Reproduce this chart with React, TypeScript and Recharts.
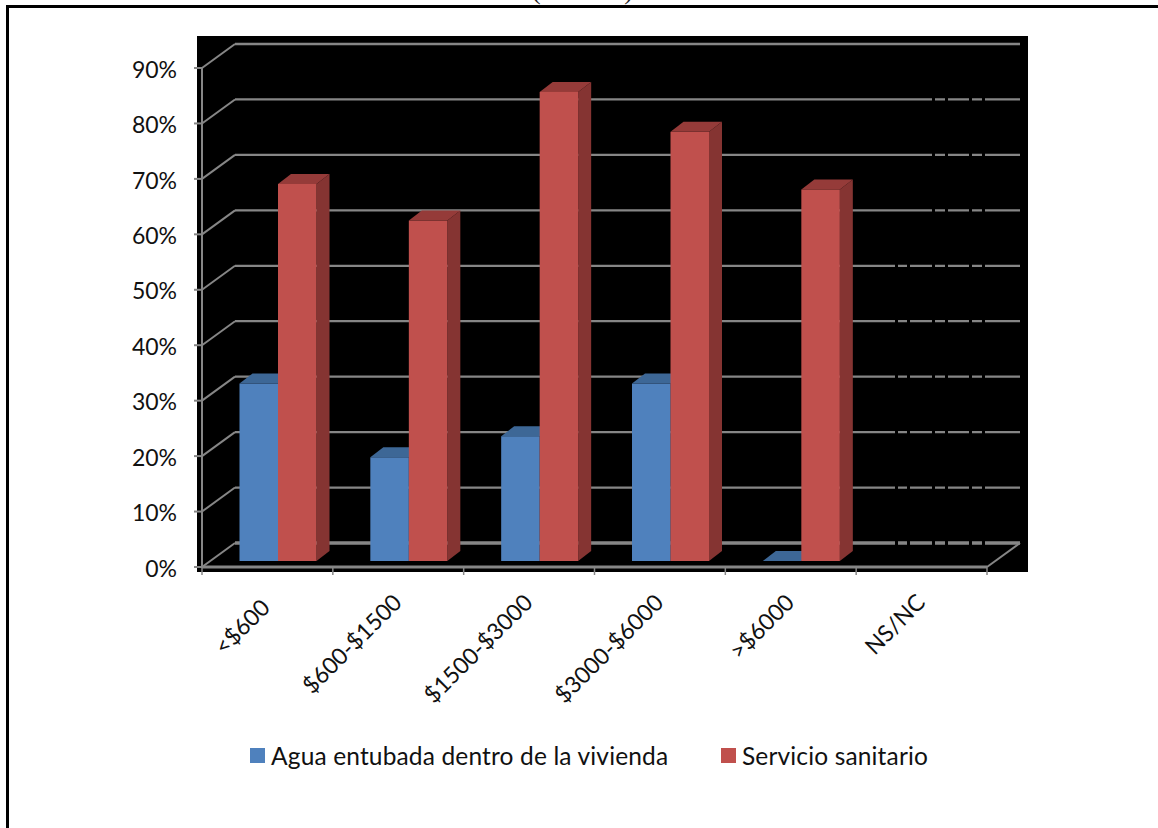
import React from 'react'
import { BarChart, Bar, XAxis, YAxis, CartesianGrid, Legend } from 'recharts'

const categories = ['<$600', '$600-$1500', '$1500-$3000', '$3000-$6000', '>$6000', 'NS/NC']
const aguaValues = [32, 18.7, 22.5, 32, 0, null]
const sanitarioValues = [68, 61.4, 84.6, 77.4, 67, null]
const yTicks = [0, 10, 20, 30, 40, 50, 60, 70, 80, 90]

const data = categories.map((name, i) => ({
    name,
    agua: aguaValues[i],
    sanitario: sanitarioValues[i],
}))

const FONT = 'Lato, Carlito, sans-serif'
const GRID = '#868686'
const PLOT_W = 785
const STEP = PLOT_W / categories.length

// the back wall sits up and to the right of the front axes
const WALL_DX = 33
const WALL_DY = -24
// bars stand in the middle of the floor, depth is the visible side
const BAR_DX = 10.5
const BAR_DY = -6
const DEPTH_X = 13
const DEPTH_Y = -10

function lineDash(y: number, x2: number) {
    // the gridlines break up near the right end in the source picture
    const end = x2 + WALL_DX
    const gaps = y < 100 ? [] : y < 280 ? [932, 945, 969, 982] : [895, 907, 932, 945, 969, 982]
    if (!gaps.length) return undefined
    let pos = 202 + WALL_DX
    const dash: number[] = []
    gaps.forEach((g) => {
        dash.push(g - pos, 3)
        pos = g + 3
    })
    dash.push(end - pos, 0)
    return dash.join(' ')
}

function GridLine({ x1, x2, y1 }: any) {
    const isFloor = y1 > 560
    const backY = y1 + WALL_DY
    const width = isFloor ? 3.5 : y1 < 100 ? 2.6 : 2.2
    return (
        <g fill="none" stroke={GRID}>
            <line x1={x1} y1={y1} x2={x1 + WALL_DX} y2={backY} strokeWidth={2} />
            <line
                x1={x1 + WALL_DX}
                y1={backY}
                x2={x2 + WALL_DX}
                y2={backY}
                strokeWidth={width}
                strokeDasharray={lineDash(y1, x2)}
            />
            {isFloor && <line x1={x2} y1={y1} x2={x2 + WALL_DX} y2={backY} strokeWidth={2} />}
        </g>
    )
}

function Box3D({ x, y, width, height, value, front, top, side }: any) {
    const v = Array.isArray(value) ? value[1] : value
    if (v == null || Number.isNaN(y)) return null
    const left = x + BAR_DX
    const right = left + width
    const yTop = y + BAR_DY
    const yBase = yTop + height
    return (
        <g>
            <polygon
                points={`${right},${yTop} ${right + DEPTH_X},${yTop + DEPTH_Y} ${right + DEPTH_X},${yBase + DEPTH_Y} ${right},${yBase}`}
                fill={side}
            />
            <polygon
                points={`${left},${yTop} ${left + DEPTH_X},${yTop + DEPTH_Y} ${right + DEPTH_X},${yTop + DEPTH_Y} ${right},${yTop}`}
                fill={top}
            />
            <rect x={left} y={yTop} width={width} height={height} fill={front} />
        </g>
    )
}

// ticks mark the category boundaries, not the centres
function CategoryTick({ x, y, index, payload }: any) {
    const last = index === categories.length - 1
    const tx = x + (index === 0 ? 4 : 5)
    const ty = y + (index === 0 ? 42 : 37)
    return (
        <g>
            <line x1={x - STEP / 2} y1={y} x2={x - STEP / 2} y2={y + 8} stroke={GRID} strokeWidth={1.5} />
            {last && <line x1={x + STEP / 2} y1={y} x2={x + STEP / 2} y2={y + 8} stroke={GRID} strokeWidth={1.5} />}
            <text
                x={tx}
                y={ty}
                transform={`rotate(-45 ${tx} ${ty})`}
                textAnchor="end"
                fill="#111"
                fontSize={23}
                fontFamily={FONT}
            >
                {payload.value}
            </text>
        </g>
    )
}

function ChartLegend() {
    const item = (color: string, label: string, left: number) => (
        <div style={{ position: 'absolute', left, top: 0, whiteSpace: 'nowrap', height: 26, lineHeight: '26px' }}>
            <span
                style={{
                    position: 'absolute',
                    left: 0,
                    top: 5,
                    width: 15,
                    height: 15,
                    background: color,
                }}
            />
            <span style={{ marginLeft: 21 }}>{label}</span>
        </div>
    )
    return (
        <div
            style={{
                position: 'relative',
                height: 26,
                fontFamily: FONT,
                fontSize: 24.5,
                letterSpacing: 0.15,
                color: '#111',
            }}
        >
            {item('#4F81BD', 'Agua entubada dentro de la vivienda', 0)}
            {item('#C0504D', 'Servicio sanitario', 471)}
        </div>
    )
}

export default function App() {
    return (
        <div
            style={{
                position: 'absolute',
                left: 0,
                top: 0,
                width: 1158,
                height: 828,
                overflow: 'hidden',
                background: '#fff',
            }}
        >
            {/* what is left of the caption, cut off by the top of the page */}
            <div
                style={{
                    position: 'absolute',
                    left: 532,
                    top: -24,
                    width: 101,
                    display: 'flex',
                    justifyContent: 'space-between',
                    fontFamily: '"Liberation Serif", serif',
                    fontSize: 26,
                    lineHeight: '30px',
                    color: '#222',
                }}
            >
                <span>(</span>
                <span>)</span>
            </div>
            <div style={{ position: 'absolute', left: 6, top: 5, right: 0, height: 2.5, background: '#000' }} />
            <div style={{ position: 'absolute', left: 6, top: 5, bottom: 0, width: 2.5, background: '#000' }} />
            <div style={{ position: 'absolute', left: 197, top: 36, width: 831, height: 536, background: '#000' }} />
            <div style={{ position: 'absolute', left: 0, top: 0 }}>
                <BarChart
                    width={1158}
                    height={828}
                    data={data}
                    margin={{ top: 68, right: 171, bottom: 81, left: 0 }}
                    barSize={38.5}
                    barGap={0}
                >
                    <CartesianGrid vertical={false} horizontal={(p: any) => <GridLine key={p.key} {...p} />} />
                    <XAxis
                        dataKey="name"
                        height={180}
                        interval={0}
                        tickLine={false}
                        tickSize={0}
                        tickMargin={0}
                        stroke={GRID}
                        strokeWidth={3}
                        tick={<CategoryTick />}
                    />
                    <YAxis
                        width={202}
                        domain={[0, 90]}
                        ticks={yTicks}
                        tickFormatter={(v) => `${v}%`}
                        tickMargin={17}
                        tickSize={8}
                        stroke={GRID}
                        strokeWidth={2}
                        tick={{ fill: '#111', fontSize: 23, fontFamily: FONT, dy: 1.5 }}
                    />
                    <Legend
                        layout="horizontal"
                        verticalAlign="middle"
                        align="center"
                        content={<ChartLegend />}
                        wrapperStyle={{ left: 250, top: 743, width: 700, height: 26 }}
                    />
                    <Bar
                        dataKey="agua"
                        name="Agua entubada dentro de la vivienda"
                        isAnimationActive={false}
                        shape={(p: any) => <Box3D {...p} front="#4F81BD" top="#3D6796" side="#325880" />}
                    />
                    <Bar
                        dataKey="sanitario"
                        name="Servicio sanitario"
                        isAnimationActive={false}
                        shape={(p: any) => <Box3D {...p} front="#C0504D" top="#953B39" side="#853432" />}
                    />
                </BarChart>
            </div>
        </div>
    )
}
